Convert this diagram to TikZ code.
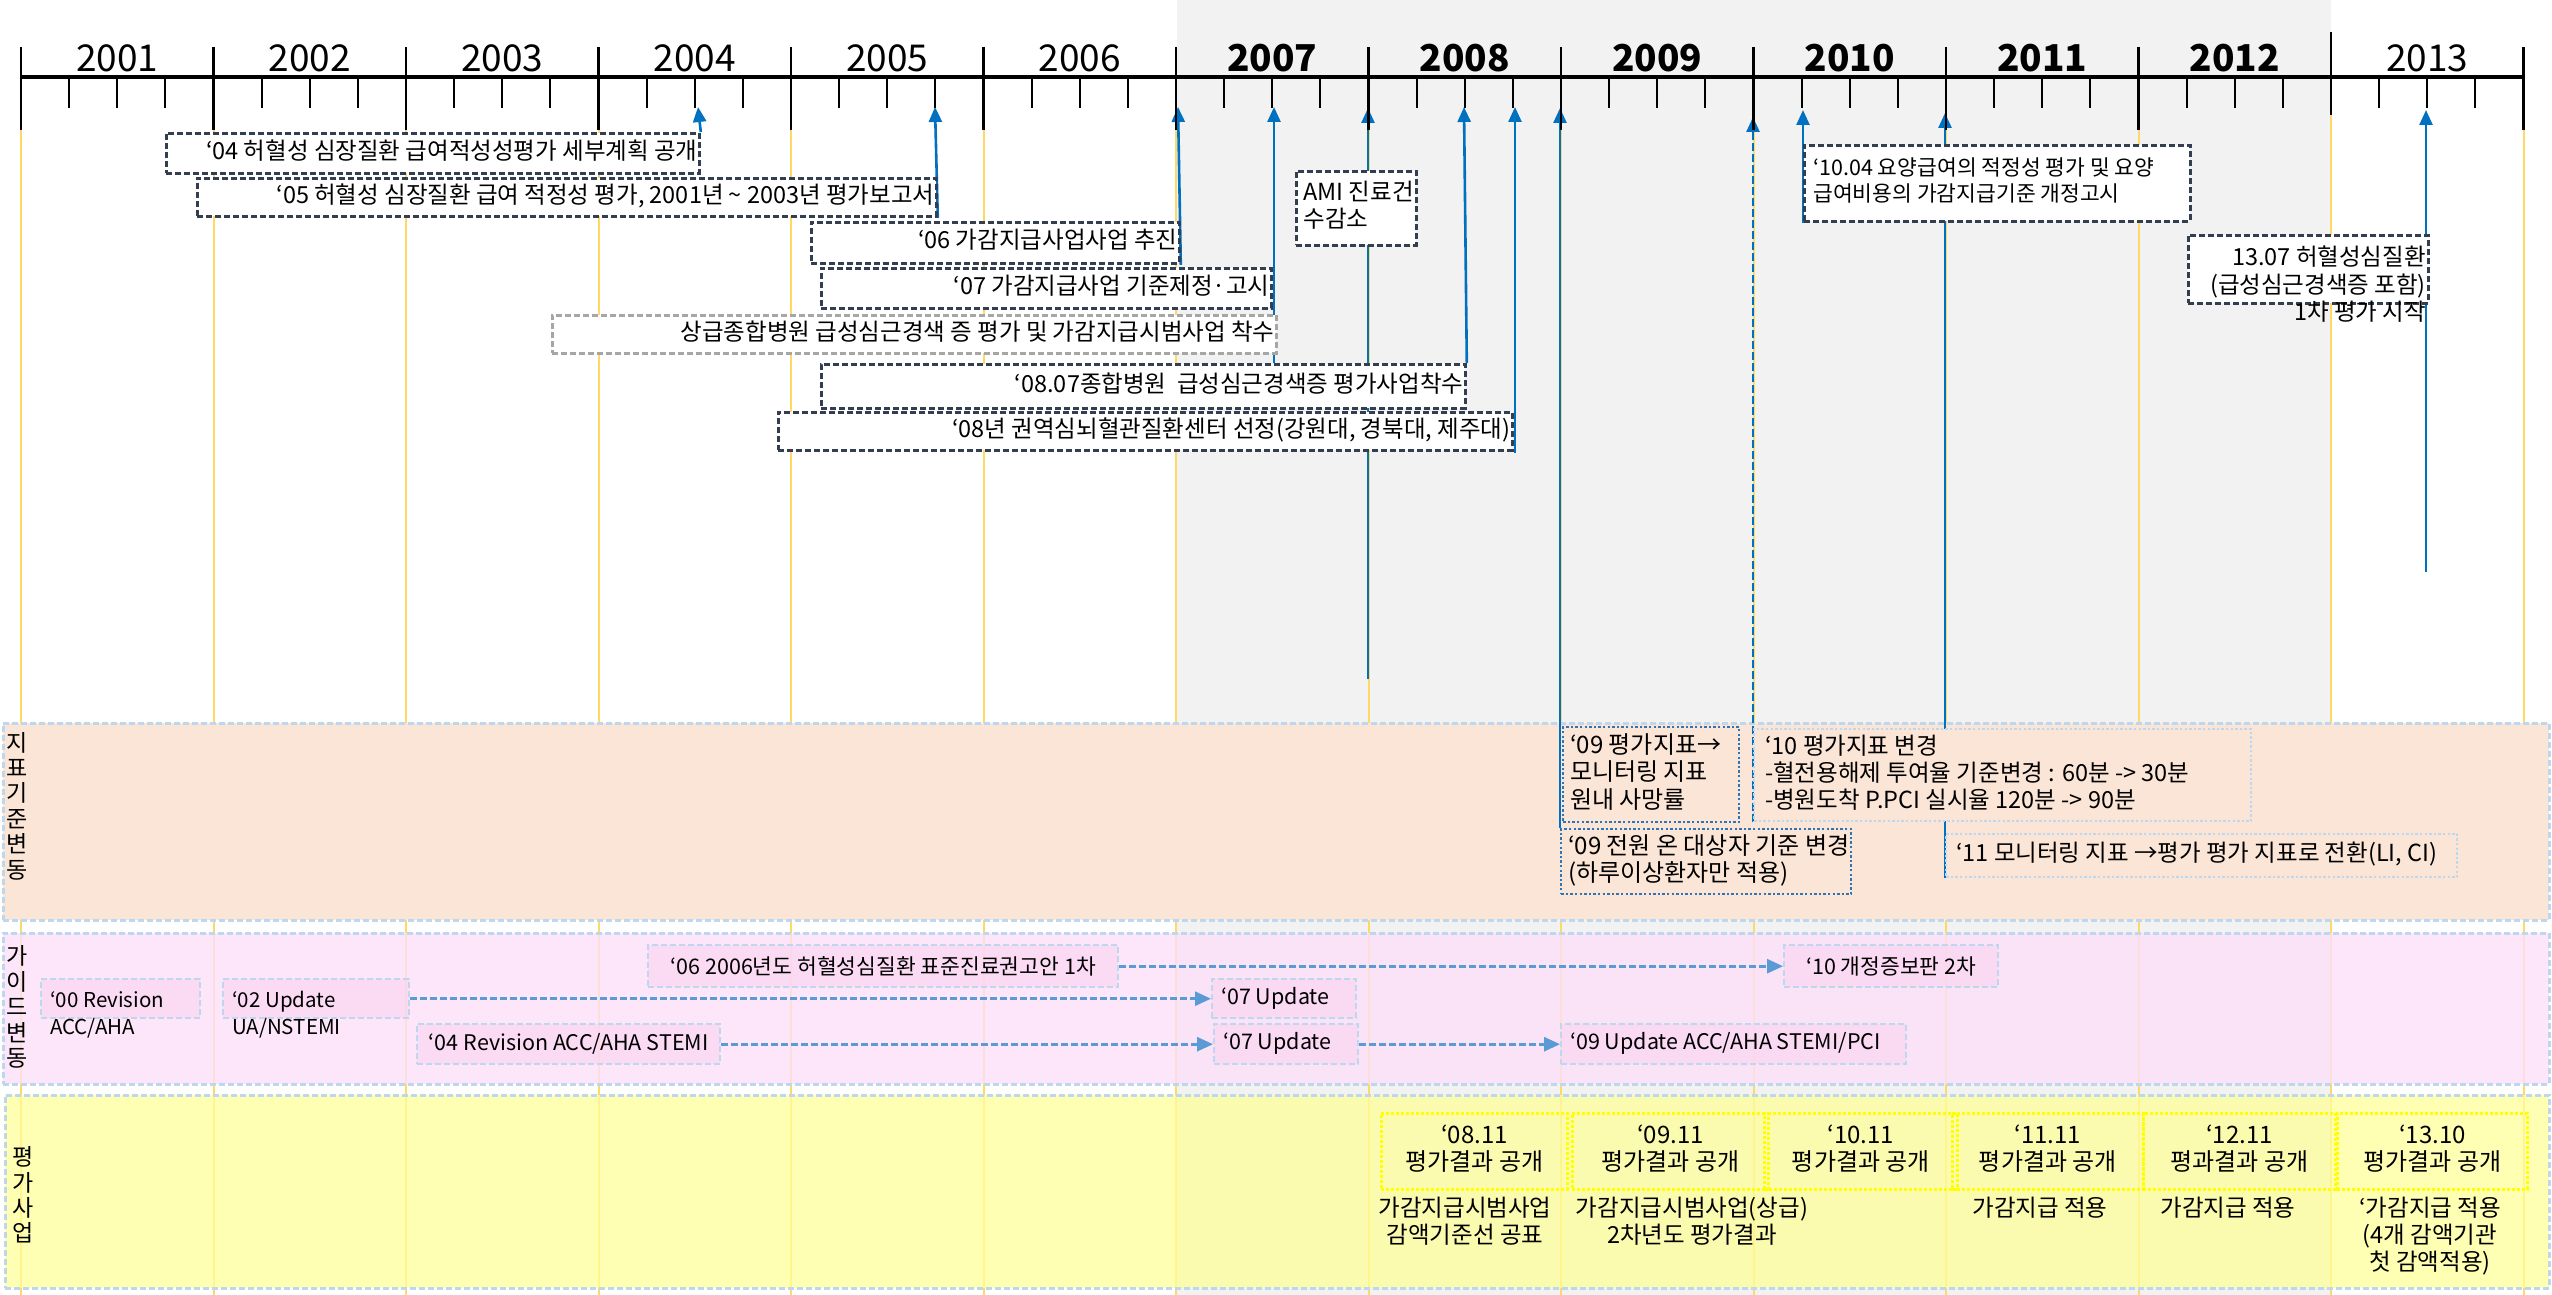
\documentclass[tikz,border=0pt]{standalone}
\usepackage{fontspec}
\setmainfont{Noto Sans CJK KR}
\usetikzlibrary{arrows.meta}

\definecolor{bggray}{HTML}{F2F2F2}
\definecolor{gridyel}{HTML}{FFD966}
\definecolor{arrblue}{HTML}{0070C0}
\definecolor{boxdark}{HTML}{333F50}
\definecolor{boxgray}{HTML}{A6A6A6}
\definecolor{peach}{HTML}{FBE5D6}
\definecolor{pinkband}{HTML}{FCE0F7}
\definecolor{pinkbox}{HTML}{FBD3F2}
\definecolor{yelband}{HTML}{FFFF99}
\definecolor{bandline}{HTML}{BDD7EE}
\definecolor{guideblue}{HTML}{5B9BD5}
\definecolor{dotblue}{HTML}{2E75B6}
\definecolor{evyel}{HTML}{FFFF00}

\newcommand{\fYear}{\fontsize{37}{40}\selectfont}
\newcommand{\fTop}{\fontsize{23.5}{25}\selectfont}
\newcommand{\fTopS}{\fontsize{21.5}{25}\selectfont}
\newcommand{\fInd}{\fontsize{23.5}{24}\selectfont}
\newcommand{\fIndB}{\fontsize{24}{24.5}\selectfont}
\newcommand{\fGd}{\fontsize{21.5}{27}\selectfont}
\newcommand{\fGdS}{\fontsize{20.5}{27}\selectfont}
\newcommand{\fEv}{\fontsize{24}{23}\selectfont}
\newcommand{\fBel}{\fontsize{23.5}{25.5}\selectfont}
\newcommand{\fLab}{\fontsize{23}{25.4}\selectfont}
\newcommand{\boxR}[2]{\makebox[#1][r]{\begin{tabular}{@{}r@{}}#2\end{tabular}}}
\newcommand{\boxL}[2]{\makebox[#1][l]{\begin{tabular}{@{}l@{}}#2\end{tabular}}}
\newcommand{\linesC}[1]{\begin{tabular}{@{}c@{}}#1\end{tabular}}
\newcommand{\linesL}[1]{\begin{tabular}{@{}l@{}}#1\end{tabular}}
\newcommand{\linesR}[1]{\begin{tabular}{@{}r@{}}#1\end{tabular}}

\pgfdeclarelayer{back}
\pgfdeclarelayer{arrowlayer}
\pgfsetlayers{back,arrowlayer,main}

\tikzset{
 gridline/.style={draw=gridyel, line width=2pt},
 majortick/.style={draw=black, line width=2.4pt},
 minortick/.style={draw=black, line width=2pt},
 yearlbl/.style={font=\fYear, inner sep=0pt},
 bandbox/.style={draw=bandline, line width=2.5pt, dash pattern=on 6pt off 3pt, anchor=north west, inner sep=0pt},
 bandlbl/.style={inner sep=0pt, align=center, font=\fLab},
 sized/.style 2 args={anchor=north west, minimum width=#1, minimum height=#2},
 tbox/.style={draw=boxdark, fill=white, line width=2.8pt, dash pattern=on 6pt off 3pt, inner xsep=2pt, inner ysep=0pt, font=\fTop},
 gtbox/.style={tbox, draw=boxgray},
 ibox/.style={fill=peach, line width=2.4pt, dash pattern=on 2.4pt off 2.2pt, inner ysep=0pt, font=\fInd},
 idark/.style={ibox, draw=dotblue, font=\fIndB},
 ilight/.style={ibox, draw=bandline},
 gbox/.style={draw=bandline, fill=pinkbox, fill opacity=0.6, text opacity=1, line width=2.4pt, dash pattern=on 6pt off 3pt, inner ysep=0pt, font=\fGd},
 ebox/.style={draw=evyel, line width=2.8pt, dash pattern=on 3pt off 2pt, inner sep=0pt, font=\fEv},
 plain/.style={inner sep=0pt},
 barrow/.style={arrblue, line width=2.6pt, -{Triangle[width=13pt,length=15pt]}},
 dbarrow/.style={barrow, dash pattern=on 8pt off 3pt},
 garrow/.style={guideblue, line width=2.8pt, dash pattern=on 7pt off 3pt, -{Triangle[width=14pt,length=16pt]}},
}

\begin{document}
\begin{tikzpicture}[x=1pt,y=-1pt]
\useasboundingbox (0,0) rectangle (2552,1295);

% ---------- background layer ----------
\begin{pgfonlayer}{back}
 \fill[bggray] (1177,0) rectangle (2331,1295);
 \foreach \k in {0,...,13} \draw[gridline] ({21+192.5*\k},77) -- ({21+192.5*\k},1295);
 \node[bandbox, fill=peach, minimum width=2546pt, minimum height=197pt] (band1) at (2,722) {};
 \node[bandbox, fill=pinkband, fill opacity=0.8, minimum width=2546pt, minimum height=151pt] (band2) at (2,932) {};
 \node[bandbox, fill=yelband, fill opacity=0.75, minimum width=2544pt, minimum height=193pt] (band3) at (4,1094) {};
\end{pgfonlayer}

% ---------- time axis ----------
\draw[line width=4pt] (21,77.5) -- (2523,77.5);
\foreach \k in {0,...,11,13} \draw[majortick] ({21+192.5*\k},47) -- ({21+192.5*\k},130);
\draw[majortick] (2331,32) -- (2331,115);
\foreach \k in {0,...,12} \foreach \j in {1,2,3}
  \draw[minortick] ({21+192.5*\k+48.125*\j},77) -- ({21+192.5*\k+48.125*\j},108);

\foreach \yr/\k in {2001/0,2002/1,2003/2,2004/3,2005/4,2006/5,2013/12}
  \node[yearlbl] (y\yr) at ({117.25+192.5*\k},58) {\yr};
\foreach \yr/\k in {2007/6,2008/7,2009/8,2010/9,2011/10,2012/11}
  \node[yearlbl, font=\fYear\bfseries] (y\yr) at ({117.25+192.5*\k},58) {\yr};

% arrow tip points on the axis
\coordinate (t04) at (698,107);
\coordinate (t05) at (935,107);
\coordinate (t07) at (1178,107);
\coordinate (t07b) at (1274,107);
\coordinate (t08) at (1368,108);
\coordinate (t08b) at (1464,107);
\coordinate (t08c) at (1515,107);
\coordinate (t09) at (1560,108);
\coordinate (t10) at (1753,117);
\coordinate (t10b) at (1803,110);
\coordinate (t11) at (1945,113);
\coordinate (t13) at (2426,110);

% ---------- top event boxes ----------
\node[tbox, sized={533pt}{40pt}] (b04) at (165,132) {\boxR{529pt}{‘04 허혈성 심장질환 급여적성성평가 세부계획 공개}};
\node[tbox, sized={739pt}{38pt}] (b05) at (196,177) {\boxR{735pt}{‘05 허혈성 심장질환 급여 적정성 평가, 2001년 \textasciitilde\ 2003년 평가보고서}};
\node[tbox, sized={368pt}{41pt}] (b06) at (810,221) {\boxR{364pt}{‘06 가감지급사업사업 추진}};
\node[tbox, sized={450pt}{40pt}] (b07) at (820,267) {\boxR{446pt}{‘07 가감지급사업 기준제정·고시}};
\node[gtbox, sized={724pt}{38pt}] (bgr) at (551,314) {\boxR{720pt}{상급종합병원 급성심근경색 증 평가 및 가감지급시범사업 착수}};
\node[tbox, sized={644pt}{44pt}] (b0807) at (820,363) {\boxR{640pt}{‘08.07종합병원\ \ 급성심근경색증 평가사업착수}};
\node[tbox, sized={734pt}{38pt}] (b08c) at (777,411) {\boxR{730pt}{‘08년 권역심뇌혈관질환센터 선정(강원대, 경북대, 제주대)}};
\node[tbox, inner xsep=7pt, sized={120pt}{74pt}] (bami) at (1295,170) {\boxL{106pt}{AMI 진료건\\수감소}};
\node[tbox, font=\fTopS, inner xsep=9pt, sized={386pt}{76pt}] (b1004) at (1803,144) {\boxL{368pt}{‘10.04 요양급여의 적정성 평가 및 요양\\급여비용의 가감지급기준 개정고시}};
\node[tbox, sized={240pt}{68pt}] (b13) at (2187,234) {};
\node[plain, font=\fBel, anchor=north east] (b13t) at (2426,246) {\linesR{13.07 허혈성심질환\\(급성심근경색증 포함)\\1차 평가 시작}};

% ---------- band 1 : indicator changes ----------
\node[bandlbl] (lb1) at (17,806) {지\\표\\기\\준\\변\\동};
\node[idark, inner xsep=7pt, sized={176pt}{95pt}] (b09a) at (1562,726) {\boxL{162pt}{‘09 평가지표→\\모니터링 지표\\원내 사망률}};
\node[idark, inner xsep=7pt, sized={290pt}{65pt}] (b09b) at (1560,828) {\boxL{276pt}{‘09 전원 온 대상자 기준 변경\\(하루이상환자만 적용)}};
\node[ilight, inner xsep=11pt, sized={497pt}{92pt}] (b10) at (1753,728) {\boxL{475pt}{‘10 평가지표 변경\\-혈전용해제 투여율 기준변경 : 60분 -> 30분\\-병원도착 P.PCI 실시율 120분 -> 90분}};
\node[ilight, inner xsep=10pt, sized={511pt}{43pt}] (b11) at (1945,833) {\boxL{491pt}{‘11 모니터링 지표 →평가 평가 지표로 전환(LI, CI)}};

% ---------- band 2 : guideline changes ----------
\node[bandlbl] (lb2) at (17,1007) {가\\이\\드\\변\\동};
\node[gbox, sized={159pt}{39pt}] (g00) at (40,978) {};
\node[plain, font=\fGdS, anchor=north west] (g00t) at (50,988) {\linesL{‘00 Revision\\ACC/AHA}};
\node[gbox, sized={186pt}{39pt}] (g02) at (222,978) {};
\node[plain, font=\fGdS, anchor=north west] (g02t) at (232,988) {\linesL{‘02 Update\\UA/NSTEMI}};
\node[gbox, sized={470pt}{42pt}] (g06) at (647,944) {‘06 2006년도 허혈성심질환 표준진료권고안 1차};
\node[gbox, sized={303pt}{40pt}] (g04) at (416,1023) {‘04 Revision ACC/AHA STEMI};
\node[gbox, inner xsep=9pt, sized={144pt}{39pt}] (g07a) at (1211,978) {\boxL{126pt}{‘07 Update}};
\node[gbox, inner xsep=9pt, sized={144pt}{40pt}] (g07b) at (1213,1023) {\boxL{126pt}{‘07 Update}};
\node[gbox, inner xsep=9pt, sized={345pt}{40pt}] (g09) at (1560,1023) {\boxL{327pt}{‘09 Update ACC/AHA STEMI/PCI}};
\node[gbox, sized={214pt}{42pt}] (g10) at (1783,944) {‘10 개정증보판 2차};

\draw[garrow] (g06.east) -- (g10.west);
\draw[garrow] (g02.east) -- (g07a.west);
\draw[garrow] (g04.east) -- (g07b.west);
\draw[garrow] (g07b.east) -- (g09.west);

% ---------- band 3 : evaluation ----------
\node[bandlbl] (lb3) at (23,1195) {평\\가\\사\\업};
\node[ebox, sized={186pt}{76pt}] (e08) at (1380,1112) {\linesC{‘08.11\\평가결과 공개}};
\node[ebox, sized={196pt}{76pt}] (e09) at (1571,1112) {\linesC{‘09.11\\평가결과 공개}};
\node[ebox, sized={193pt}{76pt}] (e10) at (1763,1112) {\linesC{‘10.11\\평가결과 공개}};
\node[ebox, sized={191pt}{76pt}] (e11) at (1951,1112) {\linesC{‘11.11\\평가결과 공개}};
\node[ebox, sized={192pt}{76pt}] (e12) at (2142,1112) {\linesC{‘12.11\\평과결과 공개}};
\node[ebox, sized={190pt}{76pt}] (e13) at (2336,1112) {\linesC{‘13.10\\평가결과 공개}};
\node[plain, font=\fBel, anchor=north] (n08) at (1465,1197) {\linesC{가감지급시범사업\\감액기준선 공표}};
\node[plain, font=\fBel, anchor=north] (n09) at (1692,1197) {\linesC{가감지급시범사업(상급)\\2차년도 평가결과}};
\node[plain, font=\fBel, anchor=north] (n11) at (2040,1197) {가감지급 적용};
\node[plain, font=\fBel, anchor=north] (n12) at (2228,1197) {가감지급 적용};
\node[plain, font=\fBel, anchor=north] (n13) at (2430,1197) {\linesC{‘가감지급 적용\\(4개 감액기관\\첫 감액적용)}};

% ---------- blue arrows to the time axis ----------
\coordinate (e08end) at (1368,679);
\coordinate (e08cend) at (1515,453);
\coordinate (e13end) at (2426,572);
\begin{pgfonlayer}{arrowlayer}
 \draw[barrow] (b04.north east) -- (t04);
 \draw[barrow] (b05.south east) -- (t05);
 \draw[barrow] (b06.south east) -- (t07);
 \draw[barrow] (b0807.north west -| t07b) -- (t07b);
 \draw[barrow] (e08end) -- (t08);
 \draw[barrow] (b0807.north east) -- (t08b);
 \draw[barrow] (e08cend) -- (t08c);
 \draw[barrow] (b09b.north west) -- (t09);
 \draw[dbarrow] (b10.south west) -- (t10);
 \draw[barrow] (b1004.south west) -- (t10b);
 \draw[barrow] (b11.south west) -- (t11);
 \draw[barrow] (e13end) -- (t13);
\end{pgfonlayer}
\end{tikzpicture}
\end{document}
